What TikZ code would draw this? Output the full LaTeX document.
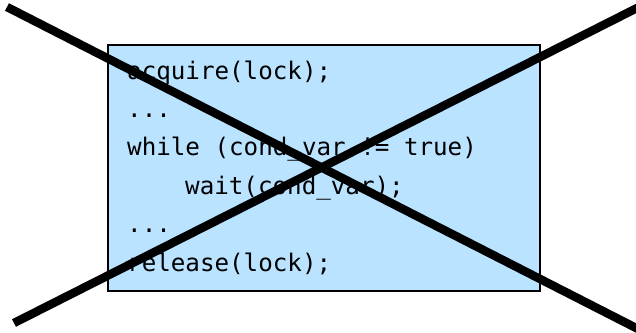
\documentclass[tikz,border=0pt]{standalone}
\usepackage{fontspec}
\setmonofont{DejaVu Sans Mono}
\definecolor{codebg}{RGB}{185,227,255}
\tikzset{
  codebox/.style={draw=black, line width=1.5pt, fill=codebg},
  codeline/.style={anchor=base west, inner sep=0pt, font=\ttfamily\fontsize{24.2pt}{29pt}\selectfont},
  crossbar/.style={line width=8.5pt, line cap=butt, black}
}
\begin{document}
\begin{tikzpicture}[x=1pt, y=-1pt]
  \useasboundingbox (0,0) rectangle (636,332);
  % code panel
  \draw[codebox] (108,45) rectangle (540,291);
  \node[codeline] (l1) at (127,79)    {acquire(lock);};
  \node[codeline] (l2) at (127,117.4) {...};
  \node[codeline] (l3) at (127,155.8) {while (cond\_var != true)};
  \node[codeline] (l4) at (185,194.2) {wait(cond\_var);};
  \node[codeline] (l5) at (127,232.6) {...};
  \node[codeline] (l6) at (127,271)   {release(lock);};
  % the big cross over the panel
  \coordinate (tl) at (7,7);
  \coordinate (br) at (642,331);
  \coordinate (bl) at (14,323);
  \coordinate (tr) at (642,5.5);
  \draw[crossbar] (tl) -- (br);
  \draw[crossbar] (bl) -- (tr);
\end{tikzpicture}
\end{document}
